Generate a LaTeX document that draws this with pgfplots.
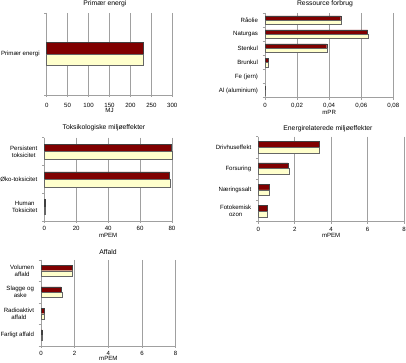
\documentclass[border=0pt]{standalone}
\usepackage{fontspec}
\setmainfont{Liberation Sans}
\usepackage{pgfplots}
\pgfplotsset{compat=1.18}
\definecolor{bred}{HTML}{800000}
\definecolor{byel}{HTML}{FFFFCC}
\definecolor{gridg}{HTML}{A0A0A0}
\pgfplotsset{
  panel/.style={
    scale only axis,
    anchor=south west,
    xbar,
    y dir=reverse,
    axis lines*=left,
    axis line style={draw=gridg, line width=0.6pt},
    font=\fontsize{6.1}{7}\selectfont,
    /pgf/number format/assume math mode=true,
    scaled x ticks=false,
    xmajorgrids,
    major grid style={draw=gridg, line width=0.5pt},
    xtick style={draw=gridg, line width=0.5pt},
    tick align=outside,
    major tick length=2pt,
    minor tick length=2.5pt,
    ytick style={draw=none},
    minor y tick style={draw=gridg, line width=0.5pt},
    yticklabel style={align=center, xshift=-1.5pt},
    title style={font=\fontsize{6.8}{8}\selectfont, anchor=center},
    clip=false,
  },
  redbar/.style={fill=bred, draw=black!75, line width=0.4pt},
  yelbar/.style={fill=byel, draw=black!60, line width=0.4pt},
}
\begin{document}
\begin{tikzpicture}
\useasboundingbox (0pt,0pt) rectangle (406pt,363pt);
% Panel 1
\begin{axis}[panel, at={(46.7pt,268pt)}, width=125.6pt, height=82pt,
  xmin=0, xmax=300, xtick={0,50,...,300},
  xticklabel style={yshift=-2.7pt},
  ymin=-0.5, ymax=0.5, ytick={0}, yticklabels={Primær energi},
  minor ytick={-0.5,0.5},
  bar width=11.5pt,
  title={Primær energi}, title style={at={(axis description cs:0.464,1)}, yshift=3pt},
  xlabel={MJ}, xlabel style={at={(axis description cs:0.5,0)}, anchor=center, yshift=-15.5pt},
]
\addplot[redbar, bar shift=5.75pt] coordinates {(229.5,0)};
\addplot[yelbar, bar shift=-5.75pt] coordinates {(230.5,0)};
\end{axis}
% Panel 2
\begin{axis}[panel, at={(265pt,265.3pt)}, width=128.3pt, height=84.7pt,
  xmin=0, xmax=0.08, xtick={0,0.02,0.04,0.06,0.08},
  xticklabels={0,{0,02},{0,04},{0,06},{0,08}},
  xticklabel style={yshift=-0.3pt},
  ymin=-0.5, ymax=5.5, ytick={0,...,5},
  yticklabels={Råolie,Naturgas,Stenkul,Brunkul,Fe (jern),Al (aluminium)},
  minor ytick={-0.5,0.5,...,5.5},
  bar width=4.3pt,
  title={Ressource forbrug}, title style={at={(axis description cs:0.468,1)}, yshift=3pt},
  xlabel={mPR}, xlabel style={at={(axis description cs:0.5,0)}, anchor=center, yshift=-14.8pt},
]
\addplot[redbar, bar shift=2.15pt] coordinates {(0.0472,0) (0.0640,1) (0.0385,2) (0.0019,3) (0.0002,5)};
\addplot[yelbar, bar shift=-2.15pt] coordinates {(0.0475,0) (0.0643,1) (0.0385,2) (0.0021,3) (0.0002,5)};
\end{axis}
% Panel 3
\begin{axis}[panel, at={(44.3pt,142pt)}, width=127.7pt, height=83.3pt,
  xmin=0, xmax=80, xtick={0,20,...,80},
  ymin=-0.5, ymax=2.5, ytick={0,1,2},
  yticklabels={{Persistent\\toksicitet},Øko-toksicitet,{Human\\Toksicitet}},
  minor ytick={-0.5,0.5,...,2.5},
  bar width=7.5pt,
  title={Toksikologiske miljøeffekter}, title style={at={(axis description cs:0.467,1)}, yshift=4pt},
  xlabel={mPEM}, xlabel style={at={(axis description cs:0.5,0)}, anchor=center, yshift=-14pt},
]
\addplot[redbar, bar shift=3.75pt] coordinates {(79.6,0) (78.5,1) (0.4,2)};
\addplot[yelbar, bar shift=-3.75pt] coordinates {(80,0) (79,1) (0.4,2)};
\end{axis}
% Panel 4
\begin{axis}[panel, at={(258.3pt,141.3pt)}, width=145.7pt, height=85pt,
  xmin=0, xmax=8, xtick={0,2,...,8},
  xticklabel style={yshift=0.4pt},
  ymin=-0.5, ymax=3.5, ytick={0,...,3},
  yticklabels={Drivhuseffekt,Forsuring,Næringssalt,{Fotokemisk\\ozon}},
  minor ytick={-0.5,0.5,...,3.5},
  bar width=5.8pt,
  title={Energirelaterede miljøeffekter}, title style={at={(axis description cs:0.478,1)}, yshift=1.7pt},
  xlabel={mPEM}, xlabel style={at={(axis description cs:0.5,0)}, anchor=center, yshift=-14pt},
]
\addplot[redbar, bar shift=2.9pt] coordinates {(3.33,0) (1.63,1) (0.62,2) (0.51,3)};
\addplot[yelbar, bar shift=-2.9pt] coordinates {(3.37,0) (1.67,1) (0.62,2) (0.51,3)};
\end{axis}
% Panel 5
\begin{axis}[panel, at={(41pt,17pt)}, width=134.7pt, height=86pt,
  xmin=0, xmax=8, xtick={0,2,...,8},
  ymin=-0.5, ymax=3.5, ytick={0,...,3},
  yticklabels={{Volumen\\affald},{Slagge og\\aske},{Radioaktivt\\affald},Farligt affald},
  minor ytick={-0.5,0.5,...,3.5},
  bar width=5.3pt,
  title={Affald}, title style={at={(axis description cs:0.497,1)}, yshift=2.3pt},
  xlabel={mPEM}, xlabel style={at={(axis description cs:0.5,0)}, anchor=center, yshift=-12.7pt},
]
\addplot[redbar, bar shift=2.65pt] coordinates {(1.84,0) (1.19,1) (0.2,2) (0.06,3)};
\addplot[yelbar, bar shift=-2.65pt] coordinates {(1.88,0) (1.23,1) (0.2,2) (0.06,3)};
\end{axis}
\end{tikzpicture}
\end{document}
